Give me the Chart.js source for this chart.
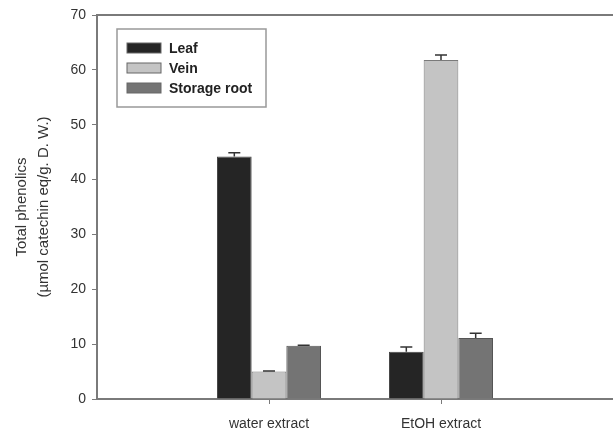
<!DOCTYPE html>
<html>
<head>
<meta charset="utf-8">
<script src="https://cdn.jsdelivr.net/npm/chart.js@4"></script>
<style>
  html, body { margin: 0; padding: 0; background: #fff; }
  #wrap { width: 613px; height: 439px; }
</style>
</head>
<body>
<div id="wrap"><canvas id="phenolicsChart" width="613" height="439"></canvas></div>
<script>
// data
const categories = ['', 'water extract', 'EtOH extract', ''];
const leafValues = [null, 44.2, 8.6, null];
const veinValues = [null, 5.0, 61.8, null];
const rootValues = [null, 9.7, 11.1, null];
const leafErr = [null, 0.7, 0.9, null];
const veinErr = [null, 0.1, 0.9, null];
const rootErr = [null, 0.1, 0.9, null];
const yTicks = [0, 10, 20, 30, 40, 50, 60, 70];

const FONT = "'Liberation Sans', Arial, sans-serif";
const axisGrey = '#7a7a7a';

// one-sided (upward) error bars
const errorBars = {
    id: 'errorBars',
    afterDatasetsDraw(chart) {
        const ctx = chart.ctx;
        const yScale = chart.scales.y;
        ctx.save();
        ctx.strokeStyle = '#333';
        ctx.lineWidth = 1.5;
        chart.data.datasets.forEach((ds, di) => {
            const meta = chart.getDatasetMeta(di);
            meta.data.forEach((bar, i) => {
                const v = ds.data[i];
                const e = ds.errors[i];
                if (v == null || e == null) return;
                const yTop = yScale.getPixelForValue(v + e);
                ctx.beginPath();
                ctx.moveTo(bar.x, bar.y);
                ctx.lineTo(bar.x, yTop);
                ctx.moveTo(bar.x - 6, yTop);
                ctx.lineTo(bar.x + 6, yTop);
                ctx.stroke();
            });
        });
        ctx.restore();
    }
};

// top frame line + boxed legend inside the plot
const frameAndLegend = {
    id: 'frameAndLegend',
    afterDraw(chart) {
        const ctx = chart.ctx;
        const area = chart.chartArea;
        ctx.save();
        ctx.strokeStyle = axisGrey;
        ctx.lineWidth = 2;
        ctx.beginPath();
        ctx.moveTo(area.left, area.top);
        ctx.lineTo(area.right, area.top);
        ctx.stroke();

        const bx = area.left + 20, by = area.top + 14;
        ctx.fillStyle = '#fff';
        ctx.fillRect(bx, by, 149, 78);
        ctx.strokeStyle = '#999';
        ctx.lineWidth = 1.5;
        ctx.strokeRect(bx, by, 149, 78);

        ctx.font = 'bold 14px ' + FONT;
        ctx.textBaseline = 'middle';
        chart.data.datasets.forEach((ds, i) => {
            const rowY = by + 19 + i * 20;
            ctx.fillStyle = ds.backgroundColor;
            ctx.fillRect(bx + 10, rowY - 5, 34, 10);
            ctx.strokeStyle = '#666';
            ctx.lineWidth = 1;
            ctx.strokeRect(bx + 10, rowY - 5, 34, 10);
            ctx.fillStyle = '#222';
            ctx.fillText(ds.label, bx + 52, rowY + 1);
        });
        ctx.restore();
    }
};

const ctx = document.getElementById('phenolicsChart').getContext('2d');
const phenolicsChart = new Chart(ctx, {
    type: 'bar',
    data: {
        labels: categories,
        datasets: [{
            label: 'Leaf',
            data: leafValues,
            errors: leafErr,
            backgroundColor: '#252525',
            borderColor: '#444',
            borderWidth: 1
        }, {
            label: 'Vein',
            data: veinValues,
            errors: veinErr,
            backgroundColor: '#c4c4c4',
            borderColor: '#7a7a7a',
            borderWidth: 1
        }, {
            label: 'Storage root',
            data: rootValues,
            errors: rootErr,
            backgroundColor: '#747474',
            borderColor: '#555',
            borderWidth: 1
        }]
    },
    options: {
        responsive: false,
        animation: false,
        categoryPercentage: 0.605,
        barPercentage: 1.0,
        layout: { padding: { top: 15, left: 0, right: 0, bottom: 0 } },
        plugins: {
            legend: { display: false },
            tooltip: { enabled: false }
        },
        scales: {
            x: {
                offset: false,
                grid: {
                    offset: false,
                    drawOnChartArea: false,
                    tickLength: 5,
                    tickColor: (c) => (categories[c.index] ? axisGrey : 'rgba(0,0,0,0)')
                },
                border: { color: axisGrey, width: 2 },
                ticks: {
                    color: '#333',
                    font: { family: FONT, size: 14 },
                    padding: 12,
                    maxRotation: 0,
                    autoSkip: false
                },
                afterFit(scale) {
                    scale.height = 40;
                    // plot runs to the right edge in the original
                    scale.paddingLeft = 0;
                    scale.paddingRight = 0;
                }
            },
            y: {
                min: 0,
                max: 70,
                afterBuildTicks(scale) {
                    scale.ticks = yTicks.map(v => ({ value: v }));
                },
                grid: {
                    drawOnChartArea: false,
                    tickLength: 5,
                    tickColor: axisGrey
                },
                border: { color: axisGrey, width: 2 },
                ticks: {
                    color: '#333',
                    font: { family: FONT, size: 14 },
                    padding: 6
                },
                title: {
                    display: true,
                    text: ['Total phenolics', '(\u00b5mol catechin eq/g. D. W.)'],
                    color: '#333',
                    font: { family: FONT, size: 15, lineHeight: 1.47 },
                    padding: { top: 11, bottom: 0 }
                },
                afterFit(scale) { scale.width = 97; }
            }
        }
    },
    plugins: [errorBars, frameAndLegend]
});
</script>
</body>
</html>
